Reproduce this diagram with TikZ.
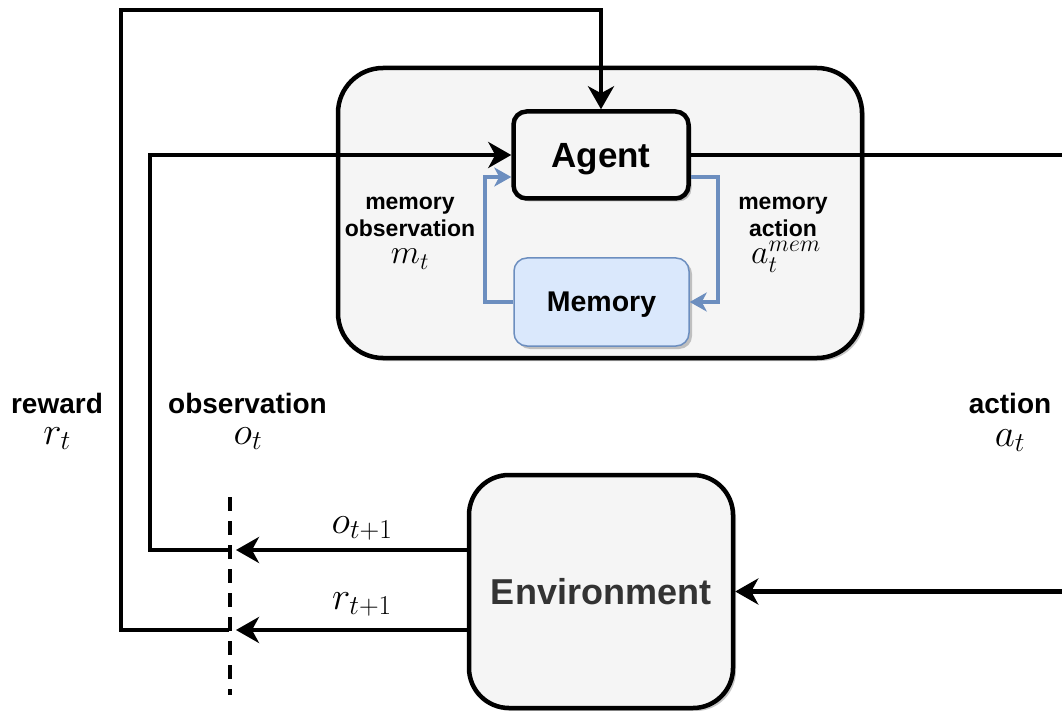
\RequirePackage{fix-cm}
\documentclass[tikz,border=0pt]{standalone}
\usepackage{fontspec}
\setsansfont{Liberation Sans}
\usetikzlibrary{arrows.meta,shadows}

\definecolor{panel}{HTML}{F5F5F5}
\definecolor{memfill}{HTML}{DAE8FC}
\definecolor{memline}{HTML}{6C8EBF}
\definecolor{envtext}{HTML}{333333}

\newcommand{\fsz}[1]{\fontsize{#1}{#1}\selectfont}

\begin{document}
\begin{tikzpicture}[x=1pt,y=-1pt,
  shade box/.style={drop shadow={shadow xshift=3pt,shadow yshift=-3pt,fill=black,opacity=0.22}},
  box/.style={draw=black,line width=4.5pt,fill=panel,inner sep=0pt,text depth=0pt,shade box},
  membox/.style={draw=memline,line width=1.5pt,fill=memfill,inner sep=0pt,text depth=0pt,rounded corners=13pt,shade box},
  flow/.style={line width=4.5pt,-{Stealth[length=23pt,width=26pt,inset=7pt]}},
  memflow/.style={draw=memline,line width=3.5pt,-{Stealth[length=17pt,width=19pt,inset=5pt]}},
  cutline/.style={line width=3.5pt,dash pattern=on 14pt off 10pt},
  lbl/.style={font=\sffamily\bfseries\fsz{28},inner sep=0pt,anchor=base},
  smalllbl/.style={font=\sffamily\bfseries\fsz{23},inner sep=0pt,anchor=base},
  mlbl/.style={font=\fsz{39},inner sep=0pt,anchor=base},
  smallmlbl/.style={font=\fsz{34},inner sep=0pt,anchor=base}]

\clip (0,0) rectangle (1062,711);

% agent system container
\node[box,rounded corners=45pt,minimum width=524pt,minimum height=290pt] (system) at (600,213) {};

% environment
\node[box,rounded corners=40pt,minimum width=264pt,minimum height=233pt,
      font=\sffamily\bfseries\fsz{36},text=envtext] (env) at (601,591.5) {Environment};

% agent and memory
\node[box,rounded corners=13pt,minimum width=175pt,minimum height=87pt,
      font=\sffamily\bfseries\fsz{35}] (agent) at (601,155) {Agent};
\node[membox,minimum width=175pt,minimum height=88pt,
      font=\sffamily\bfseries\fsz{28.5}] (memory) at (601.5,302) {Memory};

% time-step boundary
\coordinate (cutTop) at (230,497);
\coordinate (cutBot) at (230,695);
\draw[cutline] (cutTop) -- (cutBot);

% routing points
\coordinate (tipO) at (236,550);
\coordinate (tipR) at (236,630);
\coordinate (cutO) at (229,550);
\coordinate (cutR) at (229,630);
\coordinate (rewTop) at (121,10);
\coordinate (obsCorner) at (150,155);
\coordinate (actRight) at (1067,155);
\coordinate (mL) at (485,177);
\coordinate (mR) at (718,177);

% environment outputs
\draw[flow] (env.west |- tipO) -- (tipO);
\draw[flow] (env.west |- tipR) -- (tipR);

% observation and reward fed back to the agent
\draw[flow] (cutO) -| (obsCorner) -- (agent.west);
\draw[flow] (cutR) -| (rewTop) -| (agent.north);

% action sent to the environment
\draw[flow] (agent.east) -- (actRight) |- (env.east);

% memory loop
\draw[memflow] (memory.west) -| (mL) -- (mL -| agent.west);
\draw[memflow] (mR -| agent.east) -- (mR) |- (memory.east);

% labels
\node[lbl] (rewlbl) at (57,413) {reward};
\node[mlbl] (rewsym) at (57,444) {$r_t$};
\node[lbl] (obslbl) at (247.5,413) {observation};
\node[mlbl] (obssym) at (248,444) {$o_t$};
\node[lbl] (actlbl) at (1010,413) {action};
\node[mlbl] (actsym) at (1010,446) {$a_t$};

\node[mlbl] (onext) at (362,533) {$o_{t+1}$};
\node[mlbl] (rnext) at (362,609) {$r_{t+1}$};

\node[smalllbl] (mo1) at (410,210) {memory};
\node[smalllbl] (mo2) at (410,237) {observation};
\node[smallmlbl] (mo3) at (410,264) {$m_t$};

\node[smalllbl] (ma1) at (783,210) {memory};
\node[smalllbl] (ma2) at (783,237) {action};
\node[smallmlbl] (ma3) at (786,264) {$a_t^{mem}$};

\end{tikzpicture}
\end{document}
